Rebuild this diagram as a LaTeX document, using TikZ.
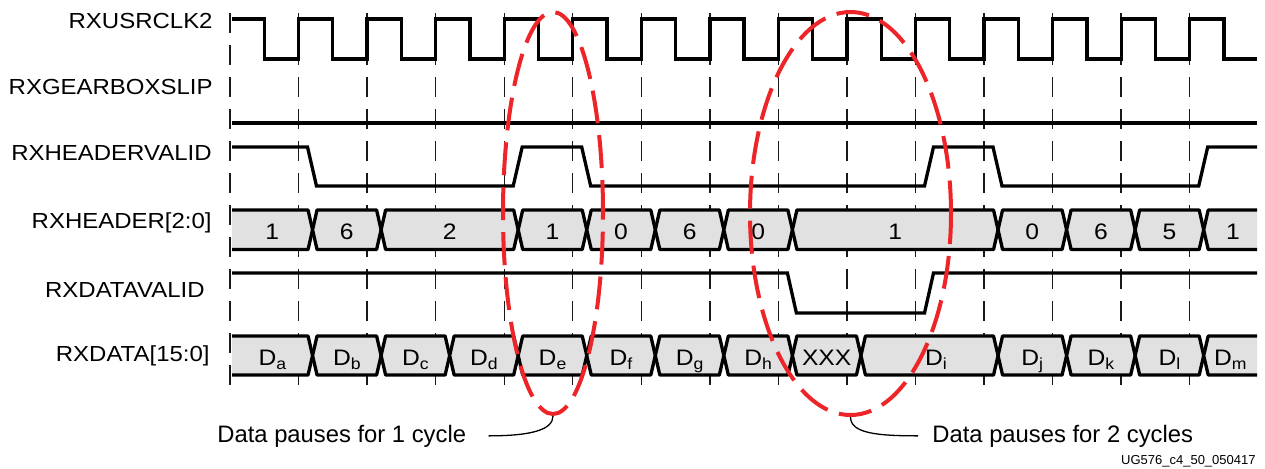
\documentclass[tikz,border=0pt]{standalone}
\usepackage{fontspec}
\setmainfont{Liberation Sans}
\newfontfamily\labfont{Liberation Sans}[FakeStretch=1.1]
\usetikzlibrary{shapes.geometric}
\definecolor{ered}{RGB}{237,36,40}
\definecolor{busgray}{RGB}{225,225,225}
\newcommand\Dsub[1]{D\raisebox{-2.4pt}{\fontsize{8}{9}\selectfont #1}}
\begin{document}
\begin{tikzpicture}[x=0.5pt,y=-0.5pt,
  sig/.style={line width=1.65pt, line join=miter},
  bus/.style={line width=1.65pt, line join=round},
  gridline/.style={line width=0.7pt, dash pattern=on 10pt off 6pt, black!90},
  sname/.style={anchor=base east, inner sep=0pt, font=\labfont\fontsize{10.9}{13}\selectfont},
  bval/.style={anchor=base, inner sep=0pt, font=\labfont\fontsize{11.2}{13}\selectfont},
  pause/.style={draw=ered, line width=2pt, dash pattern=on 16.5pt off 6pt, ellipse, inner sep=0pt},
  note/.style={anchor=base west, inner sep=0pt, font=\fontsize{11.9}{14}\selectfont},
  lead/.style={line width=0.65pt}
]
\useasboundingbox (0,0) rectangle (1265,468);

% timing grid
\foreach \k in {0,...,14}
  \draw[gridline] ({230+68.55*\k},13) -- ({230+68.55*\k},386);

% signal names
\node[sname] (n1) at (213,28) {RXUSRCLK2};
\node[sname] (n2) at (213,94.5) {RXGEARBOXSLIP};
\node[sname] (n3) at (212,160) {RXHEADERVALID};
\node[sname] (n4) at (212,228) {RXHEADER[2:0]};
\node[sname] (n5) at (205,297) {RXDATAVALID};
\node[sname] (n6) at (210,361) {RXDATA[15:0]};

% RXUSRCLK2
\draw[sig] (232,19)
  \foreach \k in {0,...,13} {
    -- ({230+68.55*\k+34.275},19) -- ++(0,40) -- ({230+68.55*(\k+1)},59) -- ++(0,-40)
  }
  -- ({230+68.55*14+34.275},19) -- ++(0,40) -- (1257,59);

% RXGEARBOXSLIP
\draw[sig] (232,123) -- (1257,123);

% RXHEADERVALID
\draw[sig] (232,147) -- (307.5,147) -- (316.5,186) -- (513.2,186) -- (522.2,147)
  -- (581.7,147) -- (590.7,186) -- (924.5,186) -- (933.5,147) -- (993,147) -- (1002,186)
  -- (1198.7,186) -- (1207.7,147) -- (1257,147);

% RXDATAVALID
\draw[sig] (232,273) -- (787.4,273) -- (796.4,313) -- (924.5,313) -- (933.5,273) -- (1257,273);

% RXHEADER[2:0] bus
\fill[busgray] (232,210) -- (308.05,210) -- (312.55,229.75) -- (308.05,249.5) -- (232,249.5) -- cycle;
\draw[bus] (232,210) -- (308.05,210) -- (312.55,229.75) -- (308.05,249.5) -- (232,249.5);
\foreach \a/\b in {312.55/381.1, 381.1/518.2, 518.2/586.75, 586.75/655.3, 655.3/723.85,
                   723.85/792.4, 792.4/998.05, 998.05/1066.6, 1066.6/1135.15, 1135.15/1203.7}
  \draw[bus, fill=busgray] ({\a+4.5},210) -- ({\b-4.5},210) -- (\b,229.75) -- ({\b-4.5},249.5)
     -- ({\a+4.5},249.5) -- (\a,229.75) -- cycle;
\fill[busgray] (1257,210) -- (1208.2,210) -- (1203.7,229.75) -- (1208.2,249.5) -- (1257,249.5) -- cycle;
\draw[bus] (1257,210) -- (1208.2,210) -- (1203.7,229.75) -- (1208.2,249.5) -- (1257,249.5);

% RXDATA[15:0] bus
\fill[busgray] (232,336) -- (308.05,336) -- (312.55,355.5) -- (308.05,375) -- (232,375) -- cycle;
\draw[bus] (232,336) -- (308.05,336) -- (312.55,355.5) -- (308.05,375) -- (232,375);
\foreach \a/\b in {312.55/381.1, 381.1/449.65, 449.65/518.2, 518.2/586.75, 586.75/655.3,
                   655.3/723.85, 723.85/792.4, 792.4/860.95, 860.95/998.05, 998.05/1066.6,
                   1066.6/1135.15, 1135.15/1203.7}
  \draw[bus, fill=busgray] ({\a+4.5},336) -- ({\b-4.5},336) -- (\b,355.5) -- ({\b-4.5},375)
     -- ({\a+4.5},375) -- (\a,355.5) -- cycle;
\fill[busgray] (1257,336) -- (1208.2,336) -- (1203.7,355.5) -- (1208.2,375) -- (1257,375) -- cycle;
\draw[bus] (1257,336) -- (1208.2,336) -- (1203.7,355.5) -- (1208.2,375) -- (1257,375);

% header values
\node[bval] (h1) at (272.3,239) {1};
\node[bval] (h2) at (346.8,239) {6};
\node[bval] (h3) at (449.6,239) {2};
\node[bval] (h4) at (552.5,239) {1};
\node[bval] (h5) at (621,239) {0};
\node[bval] (h6) at (689.6,239) {6};
\node[bval] (h7) at (758.1,239) {0};
\node[bval] (h8) at (895.2,239) {1};
\node[bval] (h9) at (1032.3,239) {0};
\node[bval] (h10) at (1100.9,239) {6};
\node[bval] (h11) at (1169.4,239) {5};
\node[bval] (h12) at (1233,239) {1};

% data values
\node[bval] (d1) at (272.3,365) {\Dsub{a}};
\node[bval] (d2) at (346.8,365) {\Dsub{b}};
\node[bval] (d3) at (415.4,365) {\Dsub{c}};
\node[bval] (d4) at (483.9,365) {\Dsub{d}};
\node[bval] (d5) at (552.5,365) {\Dsub{e}};
\node[bval] (d6) at (621,365) {\Dsub{f}};
\node[bval] (d7) at (689.6,365) {\Dsub{g}};
\node[bval] (d8) at (758.1,365) {\Dsub{h}};
\node[bval] (d9) at (826.7,365) {XXX};
\node[bval] (d10) at (936,365) {\Dsub{i}};
\node[bval] (d11) at (1032.3,365) {\Dsub{j}};
\node[bval] (d12) at (1100.9,365) {\Dsub{k}};
\node[bval] (d13) at (1169.4,365) {\Dsub{l}};
\node[bval] (d14) at (1230.4,365) {\Dsub{m}};

% pause markers
\node[pause, minimum width=50pt, minimum height=201pt] (e1) at (553,213) {};
\node[pause, minimum width=100.5pt, minimum height=201.5pt] (e2) at (850.5,213.5) {};

% annotations
\node[note] (t1) at (217,442) {Data pauses for 1 cycle};
\node[note] (t2) at (932,442) {Data pauses for 2 cycles};
\node[anchor=base east, inner sep=0pt, font=\fontsize{6.5}{8}\selectfont] (ug) at (1256,464) {UG576\_c4\_50\_050417};

\draw[lead] ([xshift=11pt]t1.east) .. controls +(42,0) and +(0,14) .. (e1.south);
\draw[lead] (e2.south) .. controls +(0,16) and +(-42,0) .. ([xshift=-7pt]t2.west);
\end{tikzpicture}
\end{document}
